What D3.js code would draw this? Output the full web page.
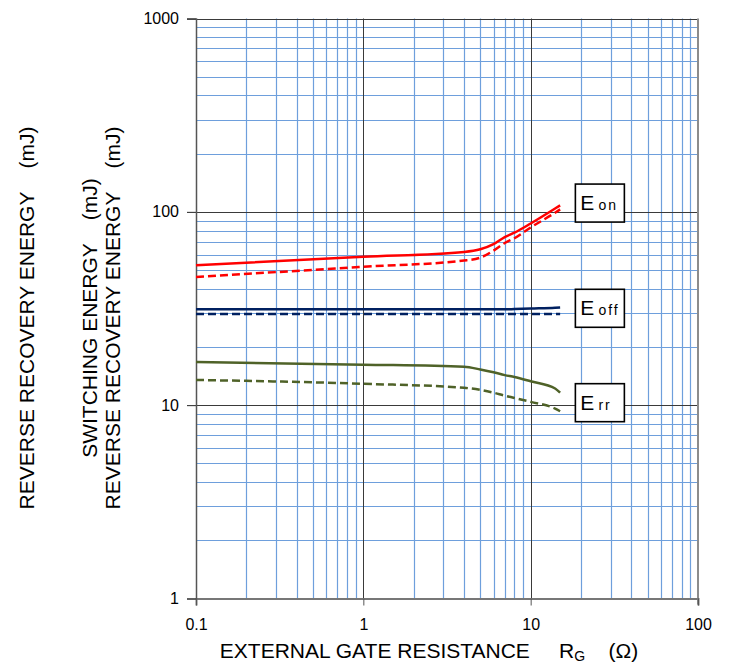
<!DOCTYPE html>
<html lang="en">
<head>
<meta charset="utf-8">
<script src="https://d3js.org/d3.v7.min.js"></script>
<style type="text/css">
body {
    margin: 0;
    background: #fff;
}
text {
    font-family: "Liberation Sans", Arial, sans-serif;
    fill: #000;
}
</style>
</head>
<body>
<div id="chart"></div>
<script type="text/javascript">

// gate resistance (ohm) and energies (mJ)
var rg = [0.1, 1, 4, 5, 6, 7, 8, 10, 14, 15];

var eonSolid  = [53, 58.5, 62, 64, 68, 74, 78, 87, 104, 108];
var eonDash   = [46, 52, 56, 58, 63, 69, 73, 83, 99, 103];
var eoffSolid = [31.3, 31.3, 31.3, 31.3, 31.3, 31.3, 31.4, 31.6, 31.9, 32];
var eoffDash  = [29.6, 29.6, 29.6, 29.6, 29.6, 29.6, 29.6, 29.6, 29.6, 29.6];
var errSolid  = [16.7, 16.2, 15.8, 15.3, 14.8, 14.3, 14.0, 13.3, 12.2, 11.6];
var errDash   = [13.5, 12.9, 12.3, 12.0, 11.6, 11.2, 10.9, 10.4, 9.6, 9.3];

var xTicks = [0.1, 1, 10, 100];
var yTicks = [1, 10, 100, 1000];

var legendNames = ["E", "E", "E"];
var legendSubs = ["on", "off", "rr"];
var legendAt = [111, 31.7, 10.3];   // y value the box is centred on

var width = 729;
var height = 666;

var x = d3.scaleLog().domain([0.1, 100]).range([196, 698]);
var y = d3.scaleLog().domain([1, 1000]).range([598.5, 18.5]);

var svg = d3.select("#chart")
    .append("svg")
    .attr("width", width)
    .attr("height", height);

// minor grid (2..9 of every decade)
var minorX = [], minorY = [];
for (var d = 0.1; d < 100; d *= 10) {
    for (var k = 2; k <= 9; k++) {
        minorX.push(d * k);
    }
}
for (var e = 1; e < 1000; e *= 10) {
    for (var m = 2; m <= 9; m++) {
        minorY.push(e * m);
    }
}

svg.append("g").selectAll("line")
    .data(minorX)
    .enter().append("line")
    .attr("x1", function(v) { return Math.round(x(v)) + 0.5; })
    .attr("x2", function(v) { return Math.round(x(v)) + 0.5; })
    .attr("y1", y(1000))
    .attr("y2", y(1))
    .style("stroke", "#6e9fdc")
    .style("stroke-width", 1.2);

svg.append("g").selectAll("line")
    .data(minorY)
    .enter().append("line")
    .attr("y1", function(v) { return Math.round(y(v)) + 0.5; })
    .attr("y2", function(v) { return Math.round(y(v)) + 0.5; })
    .attr("x1", x(0.1))
    .attr("x2", x(100))
    .style("stroke", "#6e9fdc")
    .style("stroke-width", 1.2);

// major grid
svg.append("g").selectAll("line")
    .data([1, 10])
    .enter().append("line")
    .attr("x1", function(v) { return Math.round(x(v)) + 0.5; })
    .attr("x2", function(v) { return Math.round(x(v)) + 0.5; })
    .attr("y1", y(1000))
    .attr("y2", y(1))
    .style("stroke", "#3a3a3a")
    .style("stroke-width", 1);

svg.append("g").selectAll("line")
    .data([10, 100, 1000])
    .enter().append("line")
    .attr("y1", function(v) { return Math.round(y(v)) + 0.5; })
    .attr("y2", function(v) { return Math.round(y(v)) + 0.5; })
    .attr("x1", x(0.1) - 9)
    .attr("x2", x(100))
    .style("stroke", "#3a3a3a")
    .style("stroke-width", 1);

// right border
svg.append("line")
    .attr("x1", x(100)).attr("x2", x(100))
    .attr("y1", y(1000)).attr("y2", y(1) + 6)
    .style("stroke", "#8c8c8c")
    .style("stroke-width", 2);

// axes
var xAxis = d3.axisBottom(x).tickValues(xTicks).tickSize(7).tickFormat(d3.format("~g"));
var yAxis = d3.axisLeft(y).tickValues(yTicks).tickSize(9).tickFormat(d3.format("~g"));

var gx = svg.append("g")
    .attr("transform", "translate(0," + y(1) + ")")
    .call(xAxis);
gx.select(".domain").style("stroke", "#777").style("stroke-width", 2);
gx.selectAll(".tick line").style("stroke", "#555").style("stroke-width", 1);
gx.selectAll(".tick text")
    .attr("y", 20)
    .style("font-size", "16px")
    .style("font-family", "Liberation Sans, Arial, sans-serif");

var gy = svg.append("g")
    .attr("transform", "translate(" + x(0.1) + ",0)")
    .call(yAxis);
gy.select(".domain").style("stroke", "#555").style("stroke-width", 1.5);
gy.selectAll(".tick line").style("stroke", "#444").style("stroke-width", 1);
gy.selectAll(".tick text")
    .attr("x", -17)
    .style("font-size", "16px")
    .style("font-family", "Liberation Sans, Arial, sans-serif");

// curves
var line = d3.line()
    .x(function(p) { return x(p[0]); })
    .y(function(p) { return y(p[1]); })
    .curve(d3.curveMonotoneX);

var series = [
    { v: eonSolid, color: "#ff0000", dash: null },
    { v: eonDash, color: "#ff0000", dash: "8,4" },
    { v: eoffSolid, color: "#002060", dash: null },
    { v: eoffDash, color: "#002060", dash: "8,4" },
    { v: errSolid, color: "#4f6228", dash: null },
    { v: errDash, color: "#4f6228", dash: "8,4" }
];

series.forEach(function(s) {
    svg.append("path")
        .datum(rg.map(function(r, i) { return [r, s.v[i]]; }))
        .attr("d", line)
        .style("fill", "none")
        .style("stroke", s.color)
        .style("stroke-width", 2.5)
        .style("stroke-dasharray", s.dash);
});

// legend boxes
var boxW = 49, boxH = 38;
var lg = svg.append("g").selectAll("g")
    .data(legendSubs)
    .enter().append("g")
    .attr("transform", function(s, i) {
        return "translate(" + x(18.5) + "," + (y(legendAt[i]) - boxH / 2) + ")";
    });

lg.append("rect")
    .attr("width", boxW)
    .attr("height", boxH)
    .style("fill", "#fff")
    .style("stroke", "#000")
    .style("stroke-width", 1.6);

var lt = lg.append("text")
    .attr("x", 5)
    .attr("y", 26)
    .style("font-size", "21px");
lt.append("tspan").text(function(s, i) { return legendNames[i]; });
lt.append("tspan")
    .attr("dx", 4)
    .style("font-size", "14px")
    .style("letter-spacing", "2px")
    .text(function(s) { return s; });

// axis titles
var xt = svg.append("text")
    .attr("x", 429)
    .attr("y", 658)
    .attr("text-anchor", "middle")
    .style("font-size", "21px")
    .style("white-space", "pre");
xt.append("tspan").text("EXTERNAL GATE RESISTANCE     R");
xt.append("tspan").attr("dy", 3).style("font-size", "14px").text("G");
xt.append("tspan").attr("dy", -3).text("    (Ω)");

var yTitles = [
    { t: "REVERSE RECOVERY ENERGY    (mJ)", x: 34 },
    { t: "SWITCHING ENERGY    (mJ)", x: 97 },
    { t: "REVERSE RECOVERY ENERGY    (mJ)", x: 120 }
];

svg.append("g").selectAll("text")
    .data(yTitles)
    .enter().append("text")
    .attr("transform", function(t) { return "translate(" + t.x + ",318) rotate(-90)"; })
    .attr("text-anchor", "middle")
    .style("font-size", "21px")
    .style("white-space", "pre")
    .text(function(t) { return t.t; });

</script>
</body>
</html>
